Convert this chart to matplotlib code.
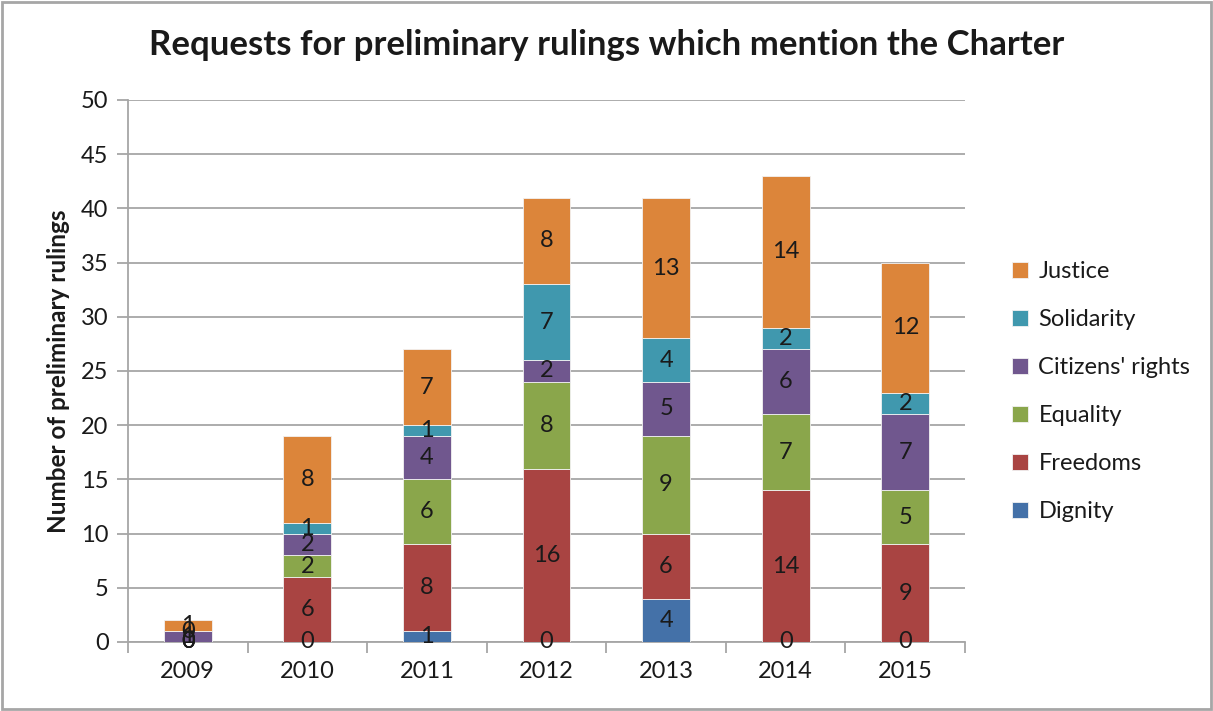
import matplotlib.pyplot as plt
import numpy as np

plt.rcParams["font.family"] = ["Lato", "DejaVu Sans"]

# data
years = ["2009", "2010", "2011", "2012", "2013", "2014", "2015"]
series = ["Dignity", "Freedoms", "Equality", "Citizens' rights", "Solidarity", "Justice"]
dignity = [0, 0, 1, 0, 4, 0, 0]
freedoms = [0, 6, 8, 16, 6, 14, 9]
equality = [0, 2, 6, 8, 9, 7, 5]
citizens = [1, 2, 4, 2, 5, 6, 7]
solidarity = [0, 1, 1, 7, 4, 2, 2]
justice = [1, 8, 7, 8, 13, 14, 12]
colors = ["#4471A8", "#A94442", "#8AA64B", "#70578E", "#4098AE", "#DC853A"]

W, H = 1213, 711
fig = plt.figure(figsize=(W / 100, H / 100), dpi=100)
ax = fig.add_axes([128 / W, (H - 642) / H, (965 - 128) / W, (642 - 100) / H])

# border round the whole chart
fig.patches.append(plt.Rectangle((0.002, 0.003), 0.996, 0.994, transform=fig.transFigure,
                                 fill=False, edgecolor="#A6A6A6", linewidth=2))

x = np.arange(len(years))
bottom = np.zeros(len(years))
handles = []
for name, vals, col in zip(series, [dignity, freedoms, equality, citizens, solidarity, justice], colors):
    vals = np.array(vals, dtype=float)
    b = ax.bar(x, vals, 0.4, bottom=bottom, color=col, edgecolor="#F2F2F2",
               linewidth=0.6, label=name, zorder=3)
    handles.append(b)
    for xi, v, b0 in zip(x, vals, bottom):
        ax.text(xi, b0 + v / 2, "%d" % v, ha="center", va="center",
                fontsize=17, color="#1A1A1A", zorder=4)
    bottom += vals

ax.set_xlim(-0.5, len(years) - 0.5)
ax.set_ylim(0, 50)
ax.set_yticks(np.arange(0, 51, 5))
ax.yaxis.grid(True, color="#A6A6A6", linewidth=1.3, zorder=0)
ax.set_axisbelow(True)

ax.set_xticks(x)
ax.set_xticklabels(years)
ax.set_xticks(np.arange(-0.5, len(years)), minor=True)
ax.tick_params(axis="x", which="major", length=0, pad=14, labelsize=17, labelcolor="#1A1A1A")
ax.tick_params(axis="x", which="minor", length=8, width=1.3, color="#A6A6A6")
ax.tick_params(axis="y", length=8, width=1.3, color="#A6A6A6", pad=6,
               labelsize=17, labelcolor="#1A1A1A")

for s in ["top", "right"]:
    ax.spines[s].set_visible(False)
for s in ["left", "bottom"]:
    ax.spines[s].set_color("#A6A6A6")
    ax.spines[s].set_linewidth(1.3)

ax.set_ylabel("Number of preliminary rulings", fontsize=17.5, fontweight="bold",
              color="#1A1A1A", labelpad=8)
fig.text(607 / W, 1 - 45 / H, "Requests for preliminary rulings which mention the Charter",
         ha="center", va="center", fontsize=25, fontweight="bold", color="#1A1A1A")

leg = fig.legend(handles[::-1], series[::-1], loc="upper left",
                 bbox_to_anchor=(1003 / W, 1 - 252 / H), frameon=False,
                 fontsize=17, handlelength=0.65, handleheight=0.65,
                 handletextpad=0.45, labelspacing=1.14, borderaxespad=0)
for t in leg.get_texts():
    t.set_color("#1A1A1A")

fig.savefig("out.png", dpi=100)
